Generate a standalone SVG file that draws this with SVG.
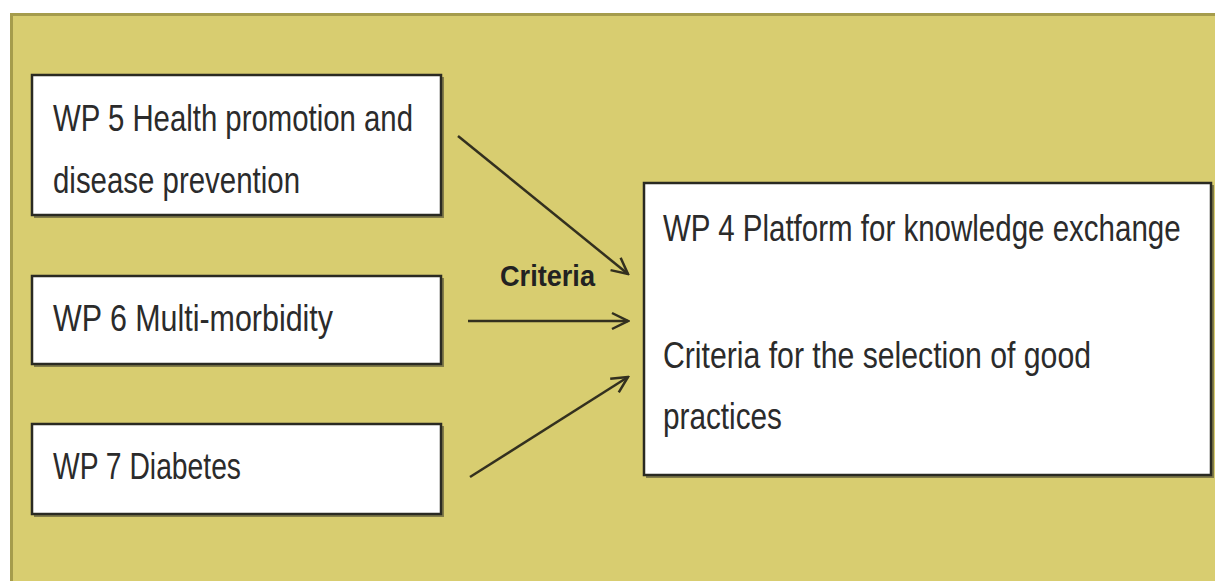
<svg xmlns="http://www.w3.org/2000/svg" width="1215" height="581" viewBox="0 0 1215 581">
<defs>
<style>
.box{fill:#fff;stroke:#2a2a22;stroke-width:2.5}
.shadow{fill:#4a4630;opacity:0.6}
.t{font-family:"Liberation Sans",Arial,sans-serif;font-size:37px;fill:#2b2b2b}
.b{font-family:"Liberation Sans",Arial,sans-serif;font-size:29px;font-weight:bold;fill:#222}
.c{stroke:#33301f;stroke-width:2.5;fill:none;marker-end:url(#ah)}
</style>
<marker id="ah" viewBox="0 0 20 20" refX="18" refY="10" markerWidth="20" markerHeight="20" markerUnits="userSpaceOnUse" orient="auto">
<path d="M2,2 L18,10 L2,18" fill="none" stroke="#33301f" stroke-width="2.5"/>
</marker>
</defs>
<rect x="0" y="0" width="1215" height="581" fill="#fff"/>
<rect x="11.5" y="14.5" width="1220" height="600" fill="#d8cd70" stroke="#a59c4c" stroke-width="3"/>
<g id="wp5">
<rect class="shadow" x="34" y="77" width="410" height="141"/>
<rect class="box" x="32" y="75" width="409" height="140"/>
<text class="t" x="53" y="131" textLength="360" lengthAdjust="spacingAndGlyphs">WP 5 Health promotion and</text>
<text class="t" x="53" y="193" textLength="247" lengthAdjust="spacingAndGlyphs">disease prevention</text>
</g>
<g id="wp6">
<rect class="shadow" x="34" y="278" width="410" height="89"/>
<rect class="box" x="32" y="276" width="409" height="88"/>
<text class="t" x="53" y="331" textLength="280" lengthAdjust="spacingAndGlyphs">WP 6 Multi-morbidity</text>
</g>
<g id="wp7">
<rect class="shadow" x="34" y="426" width="410" height="91"/>
<rect class="box" x="32" y="424" width="409" height="90"/>
<text class="t" x="53" y="479" textLength="188" lengthAdjust="spacingAndGlyphs">WP 7 Diabetes</text>
</g>
<g id="wp4">
<rect class="shadow" x="646" y="185" width="568" height="293"/>
<rect class="box" x="644" y="183" width="567" height="292"/>
<text class="t" transform="translate(663,241) scale(0.8,1)" x="0" y="0" textLength="647" lengthAdjust="spacingAndGlyphs">WP 4 Platform for knowledge exchange</text>
<text class="t" x="663" y="368" textLength="428" lengthAdjust="spacingAndGlyphs">Criteria for the selection of good</text>
<text class="t" x="663" y="429" textLength="119" lengthAdjust="spacingAndGlyphs">practices</text>
</g>
<g id="connectors">
<line class="c" x1="458" y1="136" x2="628" y2="274"/>
<line class="c" x1="468" y1="321" x2="628" y2="321"/>
<line class="c" x1="470" y1="477" x2="628" y2="377"/>
<text class="b" x="500" y="286" textLength="95" lengthAdjust="spacingAndGlyphs">Criteria</text>
</g>
</svg>
